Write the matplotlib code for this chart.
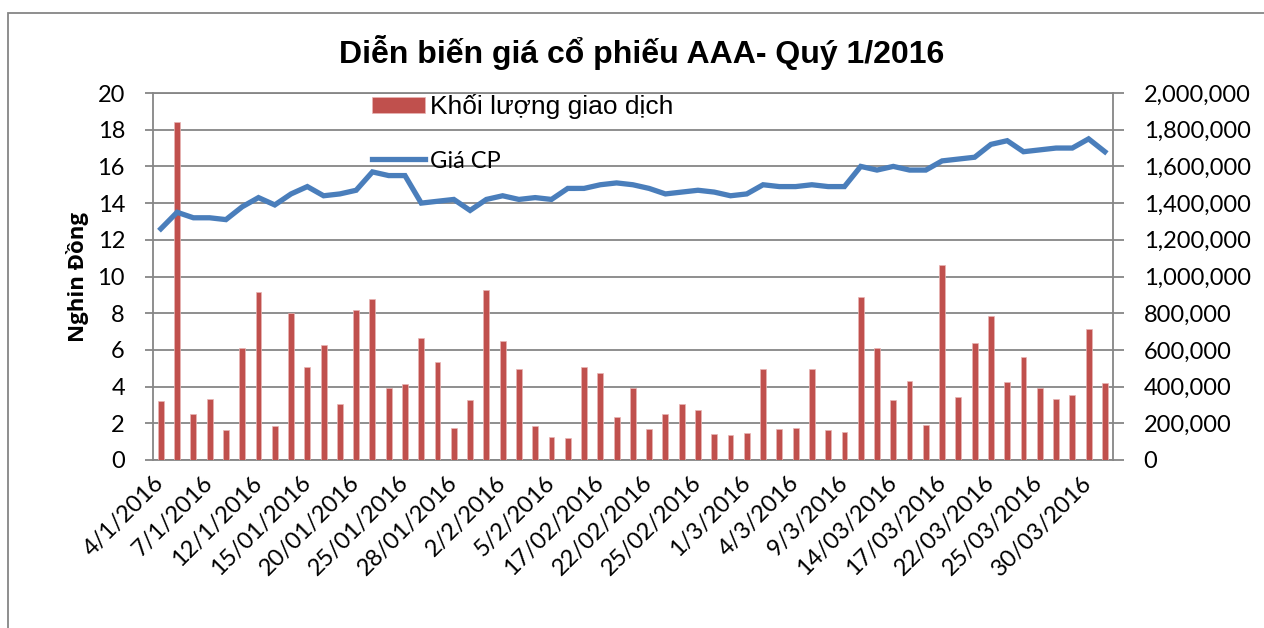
import matplotlib
matplotlib.use("Agg")
import matplotlib.pyplot as plt
from matplotlib.patches import Rectangle
from matplotlib.ticker import FuncFormatter, MultipleLocator
import numpy as np

dates = ["4/1/2016", "5/1/2016", "6/1/2016", "7/1/2016", "8/1/2016", "11/1/2016", "12/1/2016",
         "13/01/2016", "14/01/2016", "15/01/2016", "18/01/2016", "19/01/2016", "20/01/2016",
         "21/01/2016", "22/01/2016", "25/01/2016", "26/01/2016", "27/01/2016", "28/01/2016",
         "29/01/2016",
         "1/2/2016", "2/2/2016", "3/2/2016", "4/2/2016", "5/2/2016", "15/02/2016", "16/02/2016",
         "17/02/2016", "18/02/2016", "19/02/2016", "22/02/2016", "23/02/2016", "24/02/2016",
         "25/02/2016", "26/02/2016", "29/02/2016",
         "1/3/2016", "2/3/2016", "3/3/2016", "4/3/2016", "7/3/2016", "8/3/2016", "9/3/2016",
         "10/3/2016", "11/3/2016", "14/03/2016", "15/03/2016", "16/03/2016", "17/03/2016",
         "18/03/2016", "21/03/2016", "22/03/2016", "23/03/2016", "24/03/2016", "25/03/2016",
         "28/03/2016", "29/03/2016", "30/03/2016", "31/03/2016"]

price = [12.6, 13.5, 13.2, 13.2, 13.1, 13.8, 14.3, 13.9, 14.5, 14.9,
         14.4, 14.5, 14.7, 15.7, 15.5, 15.5, 14.0, 14.1, 14.2, 13.6,
         14.2, 14.4, 14.2, 14.3, 14.2, 14.8, 14.8, 15.0, 15.1, 15.0,
         14.8, 14.5, 14.6, 14.7, 14.6, 14.4, 14.5, 15.0, 14.9, 14.9,
         15.0, 14.9, 14.9, 16.0, 15.8, 16.0, 15.8, 15.8, 16.3, 16.4,
         16.5, 17.2, 17.4, 16.8, 16.9, 17.0, 17.0, 17.5, 16.8]

volume = [319000, 1843000, 248000, 330000, 164000, 613000, 916000, 184000, 799000, 505000,
          624000, 303000, 819000, 876000, 392000, 412000, 664000, 536000, 175000, 325000,
          927000, 648000, 495000, 184000, 128000, 119000, 509000, 473000, 237000, 394000,
          170000, 248000, 303000, 274000, 144000, 137000, 146000, 498000, 168000, 172000,
          498000, 161000, 155000, 889000, 609000, 325000, 432000, 192000, 1060000, 341000,
          635000, 786000, 423000, 562000, 394000, 334000, 354000, 712000, 418000]

title = "Diễn biến giá cổ phiếu AAA- Quý 1/2016"
ylabel = "Nghin Đồng"
bar_label = "Khối lượng giao dịch"
line_label = "Giá CP"

GRID = "#868686"
BAR = "#C0504D"
LINE = "#4A7EBB"
CAL = ["Lato", "Open Sans", "DejaVu Sans"]
ARIAL = ["Liberation Sans", "DejaVu Sans"]

W, H = 1264, 628
fig = plt.figure(figsize=(W / 100, H / 100), dpi=100)
fig.patch.set_facecolor("white")

# outer chart border
fig.patches.append(Rectangle((8 / W, -0.05), 1.2, 1 - 13 / H + 0.05, transform=fig.transFigure,
                             fill=False, edgecolor=GRID, linewidth=1.3))

rect = [152.7 / W, 1 - 460 / H, (1113 - 152.7) / W, (460 - 93) / H]
ax2 = fig.add_axes(rect)           # volume (right) - bottom layer with grid
ax = fig.add_axes(rect, sharex=ax2)  # price (left) - top layer
ax.patch.set_visible(False)

x = np.arange(len(dates))
bars = ax2.bar(x, volume, width=0.36, color=BAR, edgecolor="#E8B5B4", linewidth=0.5, zorder=3,
               label=bar_label)
line, = ax.plot(x, price, color=LINE, linewidth=3.8, solid_joinstyle="miter", label=line_label,
                zorder=4)

ax.set_xlim(-0.5, len(dates) - 0.5)
ax.set_ylim(0, 20)
ax2.set_ylim(0, 2000000)
ax.yaxis.set_major_locator(MultipleLocator(2))
ax2.yaxis.set_major_locator(MultipleLocator(200000))

ax2.set_axisbelow(True)
ax2.grid(axis="y", color=GRID, linewidth=1.3)
ax2.grid(axis="x", visible=False)

ax.yaxis.tick_left()
ax2.yaxis.tick_right()
ax2.yaxis.set_label_position("right")
ax2.yaxis.set_major_formatter(FuncFormatter(lambda v, p: f"{int(v):,}"))

for a in (ax, ax2):
    for s in a.spines.values():
        s.set_color(GRID)
        s.set_linewidth(1.3)
ax.spines["top"].set_visible(False)
ax.spines["right"].set_visible(False)
ax.spines["bottom"].set_visible(False)
ax2.spines["left"].set_visible(False)

ax.tick_params(axis="y", direction="out", length=6, width=1.3, color=GRID, pad=14,
               labelsize=17)
ax2.tick_params(axis="y", direction="out", length=8, width=1.3, color=GRID, pad=14,
                labelsize=17)
for lab in ax.get_yticklabels() + ax2.get_yticklabels():
    lab.set_fontfamily(CAL)

tick_pos = x[::3]
tick_lab = dates[::3]
ax.set_xticks(tick_pos)
ax.set_xticklabels(tick_lab, rotation=45, ha="right", va="center", rotation_mode="anchor",
                   fontsize=17, fontfamily=CAL)
ax.tick_params(axis="x", length=0, pad=14)
ax2.tick_params(axis="x", length=0, labelbottom=False)

ax.set_ylabel(ylabel, fontsize=16, fontweight="bold", fontfamily=["Open Sans", "DejaVu Sans"])
ax.yaxis.set_label_coords(-0.066, 0.5)

fig.text(642 / W, 1 - 52 / H, title, ha="center", va="center", fontsize=23,
         fontweight="bold", fontfamily=ARIAL)

leg = ax.legend(handles=[bars, line], labels=[bar_label, line_label], loc="upper left",
                bbox_to_anchor=(372 / W, 1 - 94 / H), bbox_transform=fig.transFigure,
                frameon=False, fontsize=19, handlelength=2.0, handleheight=0.55,
                handletextpad=0.2, labelspacing=1.2, borderpad=0, borderaxespad=0)
texts = leg.get_texts()
texts[0].set_fontfamily(ARIAL)
texts[1].set_fontfamily(CAL)
texts[1].set_fontsize(17)

fig.savefig("out.png", dpi=100)
